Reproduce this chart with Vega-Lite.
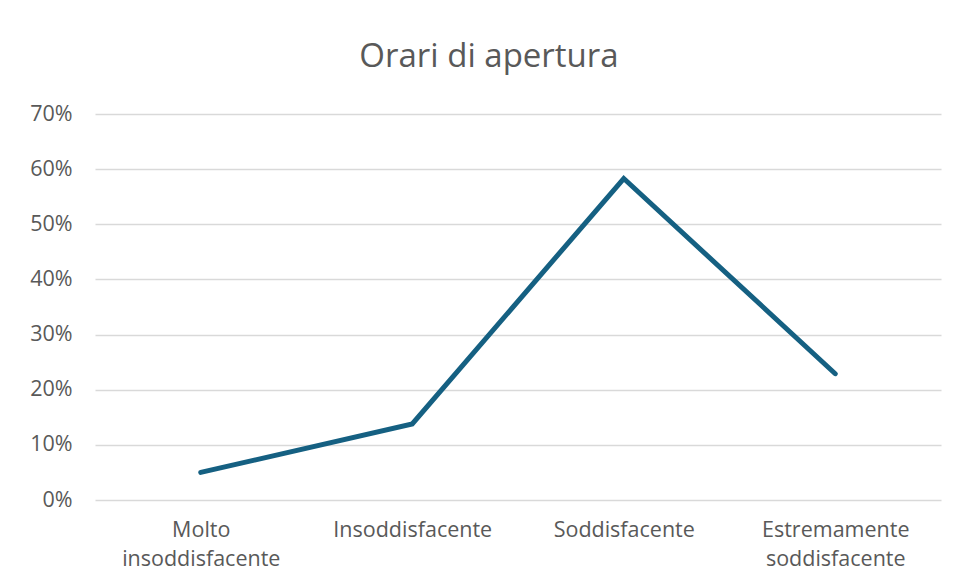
{
  "$schema": "https://vega.github.io/schema/vega-lite/v6.json",
  "width": 846,
  "height": 386,
  "autosize": {"type": "none"},
  "padding": {"left": 95, "top": 114, "right": 16, "bottom": 84},
  "background": "white",
  "title": {
    "text": "Orari di apertura",
    "font": "Open Sans",
    "fontSize": 33,
    "fontWeight": "normal",
    "color": "#595959",
    "anchor": "middle",
    "frame": "group",
    "dx": -29,
    "offset": 29
  },
  "data": {
    "values": [
      {"categoria": "Molto insoddisfacente", "percentuale": 0.050},
      {"categoria": "Insoddisfacente", "percentuale": 0.138},
      {"categoria": "Soddisfacente", "percentuale": 0.583},
      {"categoria": "Estremamente soddisfacente", "percentuale": 0.229}
    ]
  },
  "mark": {"type": "line", "color": "#156082", "strokeWidth": 5, "strokeCap": "round", "strokeJoin": "miter"},
  "encoding": {
    "x": {
      "field": "categoria",
      "type": "nominal",
      "sort": null,
      "scale": {"type": "point", "padding": 0.5},
      "axis": {
        "title": null,
        "labelAngle": 0,
        "labelExpr": "split(datum.label, ' ')",
        "labelFont": "Open Sans",
        "labelFontSize": 21.5,
        "labelColor": "#595959",
        "labelLineHeight": 29,
        "labelPadding": 19,
        "ticks": false,
        "domain": false,
        "grid": false
      }
    },
    "y": {
      "field": "percentuale",
      "type": "quantitative",
      "scale": {"domain": [0, 0.7], "nice": false},
      "axis": {
        "title": null,
        "format": ".0%",
        "values": [0, 0.1, 0.2, 0.3, 0.4, 0.5, 0.6, 0.7],
        "labelFont": "Open Sans",
        "labelFontSize": 21.5,
        "labelColor": "#595959",
        "labelPadding": 23,
        "ticks": false,
        "domain": false,
        "grid": true,
        "gridColor": "#d9d9d9",
        "gridWidth": 1.5
      }
    }
  },
  "config": {"view": {"stroke": null}}
}
